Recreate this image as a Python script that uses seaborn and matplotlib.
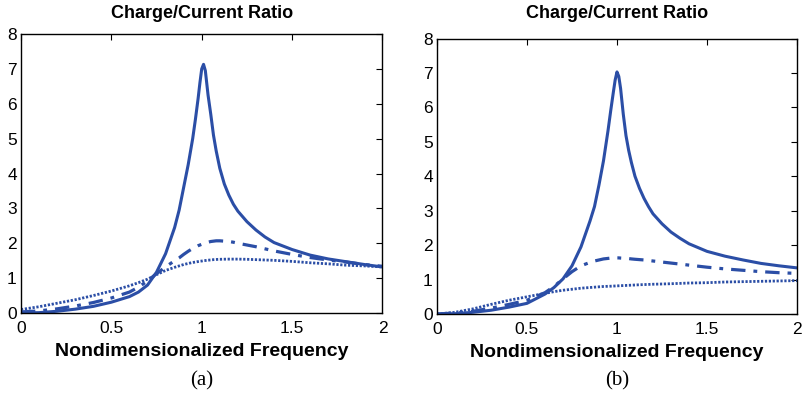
import matplotlib
matplotlib.use("Agg")
import matplotlib.pyplot as plt
import seaborn as sns
import pandas as pd

# ---------------- data ----------------
freq = [0, 0.1, 0.2, 0.3, 0.4, 0.5, 0.6, 0.65, 0.7, 0.75, 0.8, 0.85, 0.875, 0.9,
        0.925, 0.95, 0.965, 0.98, 0.99, 1.0, 1.01, 1.02, 1.035, 1.05, 1.065, 1.08,
        1.1, 1.125, 1.15, 1.175, 1.2, 1.25, 1.3, 1.35, 1.4, 1.5, 1.6, 1.7, 1.8, 1.9, 2.0]

a_solid = [0, 0.01, 0.05, 0.11, 0.19, 0.31, 0.47, 0.6, 0.8, 1.17, 1.7, 2.45, 2.95, 3.6,
           4.25, 5.0, 5.55, 6.15, 6.6, 7.0, 7.13, 6.95, 6.25, 5.7, 5.1, 4.65,
           4.15, 3.7, 3.38, 3.12, 2.92, 2.62, 2.38, 2.18, 2.02, 1.82, 1.66, 1.55, 1.47, 1.39, 1.32]
a_dashdot = [0.03, 0.06, 0.12, 0.2, 0.3, 0.43, 0.6, 0.74, 0.92, 1.13, 1.32, 1.5, 1.58, 1.68,
             1.77, 1.85, 1.89, 1.93, 1.95, 1.97, 1.99, 2.01, 2.03, 2.05, 2.06, 2.07,
             2.07, 2.06, 2.05, 2.03, 2.0, 1.95, 1.9, 1.84, 1.78, 1.68, 1.59, 1.52, 1.46, 1.39, 1.34]
a_dotted = [0.1, 0.18, 0.28, 0.38, 0.5, 0.63, 0.78, 0.87, 0.97, 1.1, 1.22, 1.31, 1.35, 1.39,
            1.42, 1.45, 1.46, 1.475, 1.485, 1.49, 1.5, 1.505, 1.515, 1.52, 1.53, 1.535,
            1.54, 1.543, 1.545, 1.545, 1.545, 1.54, 1.53, 1.52, 1.51, 1.48, 1.44, 1.41, 1.37, 1.35, 1.32]

b_solid = [0, 0.01, 0.05, 0.11, 0.2, 0.31, 0.58, 0.77, 1.02, 1.4, 1.95, 2.7, 3.12, 3.75,
           4.45, 5.32, 5.9, 6.45, 6.8, 7.03, 6.9, 6.55, 5.8, 5.18, 4.75, 4.4,
           4.0, 3.65, 3.36, 3.12, 2.91, 2.62, 2.38, 2.2, 2.04, 1.82, 1.68, 1.57, 1.47, 1.4, 1.34]
b_dashdot = [0.0, 0.03, 0.08, 0.17, 0.28, 0.4, 0.62, 0.8, 1.02, 1.23, 1.4, 1.5, 1.54, 1.57,
             1.6, 1.615, 1.625, 1.63, 1.63, 1.63, 1.63, 1.625, 1.62, 1.615, 1.61, 1.6,
             1.59, 1.58, 1.57, 1.555, 1.54, 1.51, 1.48, 1.45, 1.42, 1.36, 1.31, 1.27, 1.23, 1.2, 1.18]
b_dotted = [0.0, 0.05, 0.15, 0.28, 0.4, 0.5, 0.6, 0.65, 0.69, 0.72, 0.75, 0.77, 0.78, 0.79,
            0.8, 0.805, 0.808, 0.812, 0.815, 0.818, 0.82, 0.823, 0.827, 0.83, 0.834, 0.838,
            0.843, 0.85, 0.855, 0.86, 0.865, 0.872, 0.88, 0.89, 0.9, 0.91, 0.93, 0.94, 0.95, 0.96, 0.97]

x_ticks = [0, 0.5, 1, 1.5, 2]
x_tick_labels = ["0", "0.5", "1", "1.5", "2"]
y_ticks = [0, 1, 2, 3, 4, 5, 6, 7, 8]

title_text = "Charge/Current Ratio"
xlabel_text = "Nondimensionalized Frequency"
panel_labels = ["(a)", "(b)"]

# ---------------- style ----------------
sns.set_style("white")
plt.rcParams["font.family"] = ["Liberation Sans", "DejaVu Sans"]
plt.rcParams["xtick.direction"] = "in"
plt.rcParams["ytick.direction"] = "in"
plt.rcParams["text.color"] = "black"
plt.rcParams["axes.labelcolor"] = "black"
plt.rcParams["xtick.color"] = "black"
plt.rcParams["ytick.color"] = "black"

color = "#2b4ea6"

fig = plt.figure(figsize=(8.04, 3.96), dpi=100)
positions = [[0.0261, 0.2096, 0.4496, 0.7045],
             [0.5435, 0.2070, 0.4478, 0.6957]]
panels = [(a_solid, a_dashdot, a_dotted), (b_solid, b_dashdot, b_dotted)]

for i, (pos, (s, dd, dt)) in enumerate(zip(positions, panels)):
    ax = fig.add_axes(pos)
    df = pd.DataFrame({"f": freq, "solid": s, "dashdot": dd, "dotted": dt})
    sns.lineplot(data=df, x="f", y="solid", ax=ax, color=color, linewidth=2.2)
    sns.lineplot(data=df, x="f", y="dashdot", ax=ax, color=color, linewidth=2.3)
    sns.lineplot(data=df, x="f", y="dotted", ax=ax, color=color, linewidth=2.0)
    lines = ax.get_lines()
    lines[0].set_solid_joinstyle("round")
    lines[1].set_dashes([4.5, 2.5, 1.2, 2.5])
    lines[2].set_dashes([0.8, 0.6])
    ax.set_xlim(0, 2)
    ax.set_ylim(0, 8)
    ax.set_xticks(x_ticks)
    ax.set_xticklabels(x_tick_labels)
    ax.set_yticks(y_ticks)
    ax.tick_params(axis="both", which="both", length=4, width=0.8, color="black",
                   top=True, right=True, labelsize=12.5, labelcolor="black")
    ax.tick_params(axis="x", pad=6)
    ax.tick_params(axis="y", pad=3)
    for sp in ax.spines.values():
        sp.set_visible(True)
        sp.set_color("black")
        sp.set_linewidth(1.0)
    ax.set_xlabel(xlabel_text, fontsize=14, fontweight="bold", labelpad=5,
                  color="black")
    ax.set_ylabel("")
    cx = pos[0] + pos[2] / 2
    fig.text(cx, 1 - 14 / 396, title_text, ha="center", va="center",
             fontsize=13, fontweight="bold", color="black")
    fig.text(cx, 1 - 381 / 396, panel_labels[i], ha="center", va="center",
             fontsize=15, color="black", family=["Liberation Serif", "DejaVu Serif"])

fig.savefig("out.png", dpi=100)
